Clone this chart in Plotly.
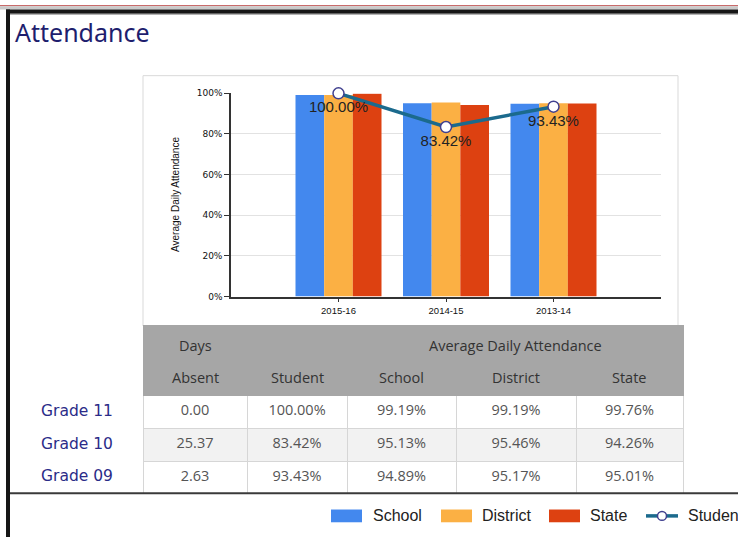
import plotly.graph_objects as go

W, H = 738, 542


def fx(x):
    return x / W


def fy(y):
    return 1 - y / H


# ---------------- data ----------------
years = ["2015-16", "2014-15", "2013-14"]
grades = ["Grade 11", "Grade 10", "Grade 09"]
days_absent = [0.00, 25.37, 2.63]
student = [100.00, 83.42, 93.43]
school = [99.19, 95.13, 94.89]
district = [99.19, 95.46, 95.17]
state = [99.76, 94.26, 95.01]
y_ticks = [0, 20, 40, 60, 80, 100]
y_tick_labels = ["0%", "20%", "40%", "60%", "80%", "100%"]
header_top = ["Days", "Average Daily Attendance"]
header_cols = ["Absent", "Student", "School", "District", "State"]
legend_names = ["School", "District", "State", "Student"]

# ---------------- styles ----------------
colors = {"School": "#4388ee", "District": "#fbb044", "State": "#dd4111"}
line_color = "#1b6a8d"
marker_edge = "#40408f"
navy = "#1e1e6e"

fig = go.Figure()

for name, vals in [("School", school), ("District", district), ("State", state)]:
    fig.add_trace(go.Bar(
        x=years, y=vals, name=name,
        marker=dict(color=colors[name], line=dict(width=0)),
        hoverinfo="skip", showlegend=False,
    ))

fig.add_trace(go.Scatter(
    x=years, y=student, name="Student",
    mode="lines+markers+text",
    text=[f"{v:.2f}%" for v in student],
    textposition="bottom center",
    textfont=dict(family="Arial", size=15, color="#222222"),
    line=dict(color=line_color, width=3.5),
    marker=dict(size=11, color="white", line=dict(color=marker_edge, width=1.5)),
    cliponaxis=False, showlegend=False, hoverinfo="skip",
))

# ---------------- table ----------------
col_px = [143, 247, 347, 456, 576, 683]
col_w = [col_px[i + 1] - col_px[i] for i in range(5)]
row_fill = ["#ffffff", "#f2f2f2", "#ffffff"]
cell_vals = [
    [f"{v:.2f}" for v in days_absent],
    [f"{v:.2f}%" for v in student],
    [f"{v:.2f}%" for v in school],
    [f"{v:.2f}%" for v in district],
    [f"{v:.2f}%" for v in state],
]
fig.add_trace(go.Table(
    domain=dict(x=[fx(col_px[0]), fx(col_px[-1])], y=[fy(498), fy(327)]),
    columnwidth=col_w,
    header=dict(values=[""] * 5, height=70, fill_color="#a6a6a6",
                line=dict(color="#a6a6a6", width=1)),
    cells=dict(values=cell_vals, height=33,
               fill_color=[row_fill] * 5,
               line=dict(color="#d6d6d6", width=1),
               font=dict(family="Open Sans", size=14.5, color="#555555"),
               align="center"),
))

shapes = []
# page frame
shapes.append(dict(type="rect", xref="paper", yref="paper", x0=0, x1=1, y0=fy(1.2), y1=1,
                   fillcolor="#c86a6a", line=dict(width=0)))
shapes.append(dict(type="rect", xref="paper", yref="paper", x0=0, x1=1, y0=fy(4.6), y1=fy(1.2),
                   fillcolor="#c9c9c9", line=dict(width=0)))
shapes.append(dict(type="rect", xref="paper", yref="paper", x0=fx(6), x1=1, y0=fy(9), y1=fy(4.6),
                   fillcolor="#161616", line=dict(width=0)))
shapes.append(dict(type="rect", xref="paper", yref="paper", x0=fx(10), x1=1, y0=fy(10), y1=fy(9),
                   fillcolor="#9a9a9a", line=dict(width=0)))
shapes.append(dict(type="rect", xref="paper", yref="paper", x0=fx(6), x1=fx(10), y0=0, y1=fy(4.6),
                   fillcolor="#161616", line=dict(width=0)))
# chart box
shapes.append(dict(type="rect", xref="paper", yref="paper", x0=fx(143), x1=fx(678), y0=fy(327), y1=fy(72),
                   fillcolor="rgba(0,0,0,0)", line=dict(color="#d9d9d9", width=1), layer="below"))
# table bottom rule
shapes.append(dict(type="line", xref="paper", yref="paper", x0=fx(10), x1=1, y0=fy(497.5), y1=fy(497.5),
                   line=dict(color="#3a3a3a", width=2)))

annotations = []
annotations.append(dict(text="Attendance", xref="paper", yref="paper", x=fx(13), y=fy(28),
                        xanchor="left", yanchor="middle", showarrow=False,
                        font=dict(family="Noto Sans", size=25, color=navy)))
annotations.append(dict(text="Average Daily Attendance", xref="paper", yref="paper", x=fx(176), y=fy(193.5),
                        xanchor="center", yanchor="middle", showarrow=False, textangle=-90,
                        font=dict(family="Arial", size=10, color="#111111")))

# header text
hfont = dict(family="Open Sans", size=14.5, color="#333333")
annotations.append(dict(text=header_top[0], xref="paper", yref="paper",
                        x=fx((col_px[0] + col_px[1]) / 2), y=fy(347), showarrow=False,
                        xanchor="center", yanchor="middle", font=hfont))
annotations.append(dict(text=header_top[1], xref="paper", yref="paper",
                        x=fx((col_px[2] + col_px[5]) / 2), y=fy(347), showarrow=False,
                        xanchor="center", yanchor="middle", font=hfont))
for i, t in enumerate(header_cols):
    annotations.append(dict(text=t, xref="paper", yref="paper",
                            x=fx((col_px[i] + col_px[i + 1]) / 2), y=fy(380), showarrow=False,
                            xanchor="center", yanchor="middle", font=hfont))
# grade labels
for i, g in enumerate(grades):
    annotations.append(dict(text=g, xref="paper", yref="paper", x=fx(77), y=fy(413.5 + 33.3 * i),
                            showarrow=False, xanchor="center", yanchor="middle",
                            font=dict(family="DejaVu Sans", size=15.5, color="#2b2b88")))

# legend
leg_y = 520.5
lfont = dict(family="Arial", size=16, color="#222222")
sw = [(331, 362, 371), (441, 472, 480), (549, 580, 588)]
for (x0, x1, tx), nm in zip(sw, legend_names[:3]):
    shapes.append(dict(type="rect", xref="paper", yref="paper", x0=fx(x0), x1=fx(x1),
                       y0=fy(leg_y + 6.5), y1=fy(leg_y - 6.5), fillcolor=colors[nm], line=dict(width=0)))
    annotations.append(dict(text=nm, xref="paper", yref="paper", x=fx(tx), y=fy(leg_y),
                            xanchor="left", yanchor="middle", showarrow=False, font=lfont))
shapes.append(dict(type="line", xref="paper", yref="paper", x0=fx(646), x1=fx(678),
                   y0=fy(leg_y), y1=fy(leg_y), line=dict(color=line_color, width=3.5)))
shapes.append(dict(type="circle", xref="paper", yref="paper", x0=fx(657.5), x1=fx(666.5),
                   y0=fy(leg_y + 4.5), y1=fy(leg_y - 4.5), fillcolor="white",
                   line=dict(color=marker_edge, width=1.5)))
annotations.append(dict(text=legend_names[3], xref="paper", yref="paper", x=fx(686), y=fy(leg_y),
                        xanchor="left", yanchor="middle", showarrow=False, font=lfont))

fig.update_layout(
    width=W, height=H,
    margin=dict(l=0, r=0, t=0, b=0),
    paper_bgcolor="white", plot_bgcolor="white",
    barmode="group", bargap=0.2, bargroupgap=0,
    showlegend=False,
    shapes=shapes, annotations=annotations,
    xaxis=dict(domain=[fx(231), fx(661)], type="category", range=[-1, 3],
               showline=True, linecolor="#333333", linewidth=1.5,
               ticks="outside", ticklen=4, tickcolor="#333333",
               tickfont=dict(family="Arial", size=9.5, color="#111111"),
               showgrid=False, zeroline=False, fixedrange=True),
    yaxis=dict(domain=[fy(297), fy(90)], range=[0, 100],
               tickmode="array", tickvals=y_ticks, ticktext=y_tick_labels,
               showline=True, linecolor="#333333", linewidth=1.5,
               ticks="outside", ticklen=5, tickcolor="#333333",
               tickfont=dict(family="DejaVu Sans", size=9, color="#111111"),
               showgrid=True, gridcolor="#e2e2e2", gridwidth=1,
               zeroline=False, fixedrange=True),
)

fig.write_html(
    "out.html",
    config={"displayModeBar": False},
    post_script="document.body.style.margin='0';document.body.style.padding='0';",
)
